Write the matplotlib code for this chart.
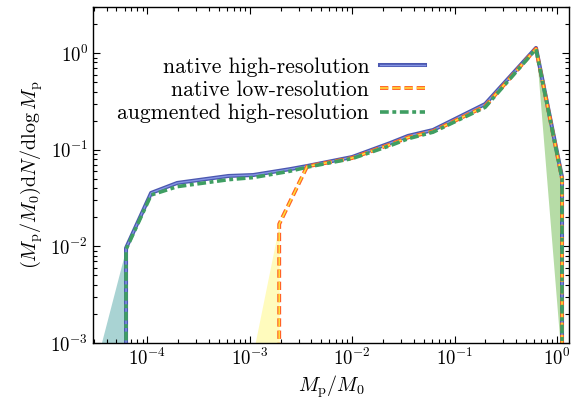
import numpy as np
import matplotlib
matplotlib.use('Agg')
import matplotlib.pyplot as plt
import matplotlib.patheffects as pe

plt.rcParams['font.family'] = 'serif'
plt.rcParams['font.serif'] = ['cmr10']
plt.rcParams['mathtext.fontset'] = 'cm'
plt.rcParams['axes.formatter.use_mathtext'] = True
plt.rcParams['lines.scale_dashes'] = False
plt.rcParams['font.size'] = 13.5

# mass bins (M_p / M_0) and distributions
x_high = [6.2e-5, 6.2e-5, 1.09e-4, 1.96e-4, 6.2e-4, 1.08e-3, 2.48e-3, 3.63e-3,
          1.0e-2, 2.34e-2, 3.52e-2, 6.17e-2, 0.199, 0.624, 1.12, 1.12]
y_high = [1e-5, 9.6e-3, 0.0357, 0.0453, 0.0535, 0.0547, 0.063, 0.0678,
          0.084, 0.117, 0.139, 0.16, 0.297, 1.13, 0.052, 1e-5]

x_low = [1.94e-3, 1.94e-3, 3.63e-3, 1.0e-2, 2.34e-2, 3.52e-2, 6.17e-2,
         0.199, 0.624, 1.12, 1.12]
y_low = [1e-5, 0.017, 0.0672, 0.082, 0.113, 0.134, 0.155, 0.282, 1.11, 0.050, 1e-5]

x_aug = [6.2e-5, 6.2e-5, 1.09e-4, 1.96e-4, 6.2e-4, 1.08e-3, 2.48e-3, 3.63e-3,
         1.0e-2, 2.34e-2, 3.52e-2, 6.17e-2, 0.199, 0.624, 1.12, 1.12]
y_aug = [1e-5, 9.3e-3, 0.034, 0.0415, 0.049, 0.0515, 0.06, 0.066,
         0.081, 0.11, 0.13, 0.152, 0.275, 1.10, 0.050, 1e-5]

# shaded extrapolation regions
teal_x = [3.56e-5, 6.2e-5]
teal_y = [1e-3, 9.6e-3]
yellow_x = [1.13e-3, 1.94e-3]
yellow_y = [1e-3, 0.017]
green_x = [0.624, 1.07, 1.12]
green_lo = [1.13, 1e-3, 1e-3]
green_hi = [1.13, 0.075, 0.052]

fig = plt.figure(figsize=(5.73, 3.99), dpi=100)
ax = fig.add_axes([0.1623, 0.1404, 0.8307, 0.8421])

ax.fill_between(teal_x, 1e-3, teal_y, color='#a9d3d3', lw=0)
ax.fill_between(yellow_x, 1e-3, yellow_y, color='#fffbbd', lw=0)
ax.fill_between(green_x, green_lo, green_hi, color='#b6dca6', lw=0)

ax.plot(x_high, y_high, color='#8595e4', lw=1.0,
        path_effects=[pe.Stroke(linewidth=2.9, foreground='#4b58b0'), pe.Normal()],
        label='native high-resolution')
ax.plot(x_low, y_low, color='#ffe23a', lw=1.1, dashes=(6.0, 2.8),
        path_effects=[pe.Stroke(linewidth=2.8, foreground='#ff6225'), pe.Normal()],
        label='native low-resolution')
ax.plot(x_aug, y_aug, color='#3f9e62', lw=2.6, dashes=(6.3, 2.6, 2.8, 2.6),
        label='augmented high-resolution')

ax.set_xscale('log')
ax.set_yscale('log')
ax.set_xlim(2.95e-5, 1.31)
ax.set_ylim(1e-3, 3.0)

ax.set_xlabel(r'$M_\mathrm{p}/M_0$', fontsize=14.5, labelpad=3)
ax.set_ylabel(r'$(M_\mathrm{p}/M_0)\mathrm{d}N/\mathrm{d}\log M_\mathrm{p}$', fontsize=14.5)

ax.tick_params(which='both', direction='in', top=True, right=True, width=0.8)
ax.tick_params(which='major', length=5)
ax.tick_params(which='minor', length=3)
for s in ax.spines.values():
    s.set_linewidth(1.0)

ax.legend(loc='upper right', bbox_to_anchor=(0.716, 0.876), frameon=False,
          markerfirst=False, handlelength=2.1, labelspacing=0.17,
          borderaxespad=0, handletextpad=0.5, fontsize=15.5)

fig.savefig('out.png', dpi=100)
